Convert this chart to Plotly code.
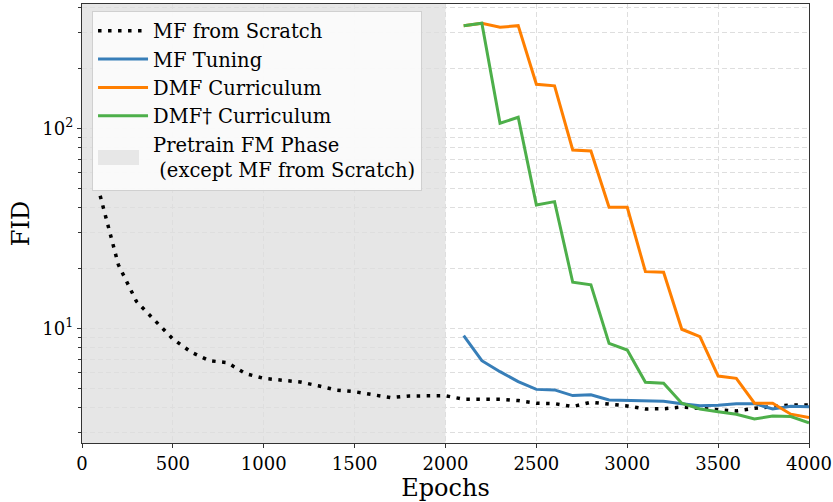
import plotly.graph_objects as go

# ---- data ----
epochs_scratch = [100, 200, 300, 400, 500, 600, 700, 800, 900, 1000, 1100, 1200, 1300, 1400,
                  1500, 1600, 1700, 1800, 1900, 2000, 2100, 2200, 2300, 2400, 2500, 2600, 2700,
                  2800, 2900, 3000, 3100, 3200, 3300, 3400, 3500, 3600, 3700, 3800, 3900, 4000]
fid_scratch = [46.0, 20.8, 13.6, 10.9, 8.84, 7.61, 6.89, 6.73, 5.93, 5.62, 5.53, 5.39, 5.16, 4.91,
               4.82, 4.66, 4.50, 4.59, 4.59, 4.60, 4.42, 4.42, 4.42, 4.35, 4.22, 4.20, 4.06,
               4.27, 4.17, 4.09, 3.95, 3.96, 4.04, 3.98, 3.94, 3.86, 3.98, 4.07, 4.14, 4.14]

epochs_tuning = [2100, 2200, 2300, 2400, 2500, 2600, 2700, 2800, 2900, 3000, 3100, 3200, 3300,
                 3400, 3500, 3600, 3700, 3800, 3900, 4000]
fid_tuning = [9.18, 6.89, 6.07, 5.41, 4.95, 4.92, 4.61, 4.65, 4.38, 4.35, 4.35, 4.32, 4.20,
              4.10, 4.12, 4.20, 4.20, 3.95, 4.08, 4.05]

epochs_dmf = [2100, 2200, 2300, 2400, 2500, 2600, 2700, 2800, 2900, 3000, 3100, 3200, 3300,
              3400, 3500, 3600, 3700, 3800, 3900, 4000]
fid_dmf = [326, 335, 320, 326, 166, 163, 77.9, 77.0, 40.3, 40.3, 19.2, 19.05, 9.89,
           9.08, 5.77, 5.62, 4.22, 4.22, 3.72, 3.58]

epochs_dmf_dag = [2100, 2200, 2300, 2400, 2500, 2600, 2700, 2800, 2900, 3000, 3100, 3200, 3300,
                  3400, 3500, 3600, 3700, 3800, 3900, 4000]
fid_dmf_dag = [326, 335, 106, 113.5, 41.4, 43.0, 17.0, 16.5, 8.41, 7.79, 5.37, 5.31, 4.22,
               3.95, 3.83, 3.72, 3.52, 3.64, 3.62, 3.37]

pretrain_span = [0, 2000]
x_ticks = [0, 500, 1000, 1500, 2000, 2500, 3000, 3500, 4000]
y_major = [10, 100]
y_major_text = ["10<sup>1</sup>", "10<sup>2</sup>"]
y_minor = [3, 4, 5, 6, 7, 8, 9, 20, 30, 40, 50, 60, 70, 80, 90, 200, 300, 400]

FONT = "DejaVu Serif"
GRID = "#dedede"

fig = go.Figure()

fig.add_shape(type="rect", xref="x", yref="paper", x0=pretrain_span[0], x1=pretrain_span[1],
              y0=0, y1=1, fillcolor="#e6e6e6", line_width=0, layer="below")
# legend swatch for the shaded phase (seen through the 80% white legend box)
fig.add_shape(type="rect", xref="paper", yref="paper", x0=0.022, x1=0.0784,
              y0=0.6333, y1=0.6674, fillcolor="#878787", line_width=0, layer="above")

fig.add_trace(go.Scatter(x=epochs_scratch, y=fid_scratch, mode="lines", name="MF from Scratch",
                         line=dict(color="black", width=3.5, dash="3.5px,6.5px")))
fig.add_trace(go.Scatter(x=epochs_tuning, y=fid_tuning, mode="lines", name="MF Tuning",
                         line=dict(color="#377eb8", width=3)))
fig.add_trace(go.Scatter(x=epochs_dmf, y=fid_dmf, mode="lines", name="DMF Curriculum",
                         line=dict(color="#ff7f00", width=3)))
fig.add_trace(go.Scatter(x=epochs_dmf_dag, y=fid_dmf_dag, mode="lines", name="DMF† Curriculum",
                         line=dict(color="#4daf4a", width=3)))
fig.add_trace(go.Scatter(x=[None], y=[None], mode="lines",
                         line=dict(width=0, color="rgba(0,0,0,0)"),
                         name="Pretrain FM Phase<br> (except MF from Scratch)"))

fig.update_layout(
    width=833, height=502,
    margin=dict(l=82, r=24, t=4, b=59, autoexpand=False),
    paper_bgcolor="white", plot_bgcolor="white",
    font=dict(family=FONT, size=18, color="black"),
    showlegend=True,
    legend=dict(x=0.0138, y=0.985, xanchor="left", yanchor="top",
                bgcolor="rgba(255,255,255,0.8)", bordercolor="#d0d0d0", borderwidth=1,
                font=dict(family=FONT, size=19.5), itemwidth=50, tracegroupgap=0),
)
fig.update_xaxes(
    range=[0, 4000], tickvals=x_ticks, ticks="outside", ticklen=4, tickwidth=1,
    tickcolor="#333", showline=True, linecolor="#333", linewidth=1.3, mirror=True,
    showgrid=True, gridcolor=GRID, griddash="5px,3px", gridwidth=1, zeroline=False,
    automargin=False,
    title=dict(text="Epochs", font=dict(family=FONT, size=24), standoff=4),
    tickfont=dict(family=FONT, size=18),
)
fig.update_yaxes(
    type="log", range=[0.4265, 2.6215], tickmode="array", tickvals=y_major,
    ticktext=y_major_text, ticks="outside", ticklen=4, tickwidth=1, tickcolor="#333",
    showline=True, linecolor="#333", linewidth=1.3, mirror=True,
    showgrid=True, gridcolor=GRID, griddash="5px,3px", gridwidth=1, zeroline=False,
    automargin=False,
    minor=dict(tickmode="array", tickvals=y_minor, ticks="outside", ticklen=2.5,
               tickcolor="#333", showgrid=True, gridcolor=GRID, griddash="5px,3px"),
    title=dict(text="FID", font=dict(family=FONT, size=24), standoff=5),
    tickfont=dict(family=FONT, size=18),
)

fig.write_html("out.html", config={"displayModeBar": False},
               post_script="document.body.style.margin='0';")
